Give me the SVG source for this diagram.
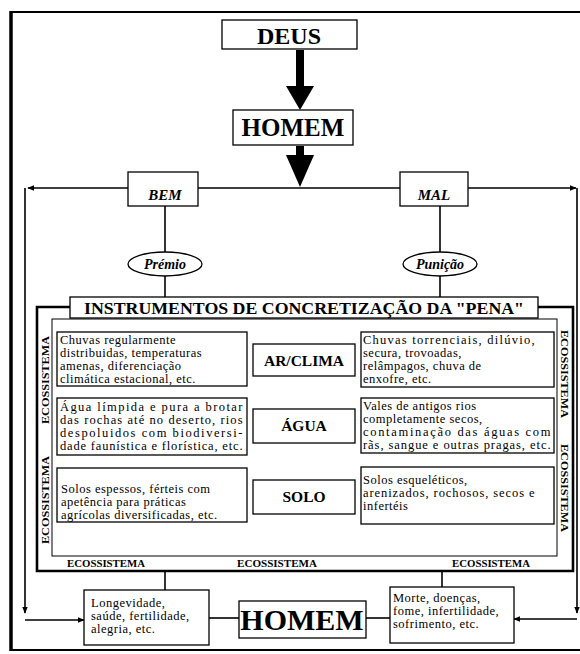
<svg xmlns="http://www.w3.org/2000/svg" width="580" height="654" viewBox="0 0 580 654">
<style>
.box{fill:#fff;stroke:#000;stroke-width:1.3}
.ln{stroke:#000;stroke-width:1.6;fill:none}
.t{font-family:"Liberation Serif",serif;fill:#000}
.body{font-size:12.5px;letter-spacing:0.5px}
.b{font-weight:bold}
.bi{font-weight:bold;font-style:italic}
.eco{font-family:"Liberation Serif",serif;font-weight:bold;font-size:10.5px}
.dot{stroke:#000;stroke-width:0.8;stroke-dasharray:1 2.5;fill:none}
</style>
<defs>
<marker id="ah" viewBox="0 0 10 10" refX="9" refY="5" markerWidth="7" markerHeight="7" orient="auto" markerUnits="userSpaceOnUse">
<path d="M0,1 L10,5 L0,9 z" fill="#000"/>
</marker>
</defs>
<rect width="580" height="654" fill="#fff"/>
<g id="frame">
<line x1="10" y1="12" x2="580" y2="12" stroke="#000" stroke-width="2"/>
<line x1="11" y1="11" x2="11" y2="651" stroke="#000" stroke-width="3.5"/>
<line x1="10" y1="650" x2="580" y2="650" stroke="#000" stroke-width="2"/>
</g>

<g id="connectors">
<rect x="296" y="50" width="8" height="38" fill="#000"/>
<path d="M286,86 L314,86 L300,110 z" fill="#000"/>
<rect x="296" y="146" width="8" height="12" fill="#000"/>
<path d="M286,155 L314,155 L300,187 z" fill="#000"/>
<line class="ln" x1="128" y1="188" x2="28" y2="188" marker-end="url(#ah)"/>
<line class="ln" x1="198" y1="188" x2="400" y2="188"/>
<line class="ln" x1="468" y1="188" x2="576" y2="188" marker-end="url(#ah)"/>
<line class="ln" x1="25" y1="188" x2="25" y2="613" marker-end="url(#ah)"/>
<line class="ln" x1="25" y1="620" x2="84" y2="620" marker-end="url(#ah)"/>
<line class="ln" x1="577" y1="188" x2="577" y2="613" marker-end="url(#ah)"/>
<line class="ln" x1="577" y1="619" x2="514" y2="619" marker-end="url(#ah)"/>
<line class="ln" x1="165" y1="206" x2="165" y2="252"/>
<line class="ln" x1="440" y1="206" x2="440" y2="252"/>
<line class="ln" x1="165" y1="276" x2="165" y2="297"/>
<line class="ln" x1="440" y1="276" x2="440" y2="297"/>
<line class="dot" x1="163" y1="320" x2="163" y2="556"/>
<line class="dot" x1="441" y1="320" x2="441" y2="556"/>
<line class="ln" x1="165" y1="571" x2="165" y2="590"/>
<line class="ln" x1="442" y1="571" x2="442" y2="587"/>
<line class="ln" x1="209" y1="618" x2="239" y2="618"/>
<line class="ln" x1="366" y1="618" x2="390" y2="618"/>
</g>

<g id="deus">
<rect class="box" x="222" y="20" width="135" height="29"/>
<text class="t b" x="289" y="44" font-size="24" text-anchor="middle">DEUS</text>
</g>
<g id="homem-top">
<rect class="box" x="233" y="110" width="120" height="35"/>
<text class="t b" x="293" y="136" font-size="25" text-anchor="middle">HOMEM</text>
</g>
<g id="bem">
<rect class="box" x="128" y="172" width="70" height="34"/>
<text class="t bi" x="165" y="200" font-size="15" text-anchor="middle">BEM</text>
</g>
<g id="mal">
<rect class="box" x="400" y="172" width="68" height="34"/>
<text class="t bi" x="434" y="200" font-size="15" text-anchor="middle">MAL</text>
</g>
<g id="premio">
<ellipse class="box" cx="165" cy="264" rx="37" ry="12"/>
<text class="t bi" x="165" y="269" font-size="14" text-anchor="middle">Prémio</text>
</g>
<g id="punicao">
<ellipse class="box" cx="440" cy="264" rx="37" ry="12"/>
<text class="t bi" x="440" y="269" font-size="14" text-anchor="middle">Punição</text>
</g>

<g id="ecossistema">
<path d="M70,307 L37,307 L37,571 L573,571 L573,307 L538,307" fill="none" stroke="#000" stroke-width="2.6"/>
<rect x="52" y="319" width="505" height="237" fill="#fff" stroke="#000" stroke-width="1"/>
<text class="eco" transform="translate(49,380) rotate(-90)" text-anchor="middle" textLength="88" lengthAdjust="spacingAndGlyphs">ECOSSISTEMA</text>
<text class="eco" transform="translate(49,500) rotate(-90)" text-anchor="middle" textLength="88" lengthAdjust="spacingAndGlyphs">ECOSSISTEMA</text>
<text class="eco" transform="translate(561,374) rotate(90)" text-anchor="middle" textLength="88" lengthAdjust="spacingAndGlyphs">ECOSSISTEMA</text>
<text class="eco" transform="translate(561,488) rotate(90)" text-anchor="middle" textLength="88" lengthAdjust="spacingAndGlyphs">ECOSSISTEMA</text>
<text class="eco" x="106" y="567" text-anchor="middle" textLength="78" lengthAdjust="spacingAndGlyphs">ECOSSISTEMA</text>
<text class="eco" x="277" y="567" text-anchor="middle" textLength="80" lengthAdjust="spacingAndGlyphs">ECOSSISTEMA</text>
<text class="eco" x="491" y="567" text-anchor="middle" textLength="78" lengthAdjust="spacingAndGlyphs">ECOSSISTEMA</text>
</g>

<g id="instrumentos">
<rect class="box" x="70" y="297" width="468" height="21"/>
<text class="t b" x="304" y="314" font-size="16.5" text-anchor="middle" textLength="440" lengthAdjust="spacingAndGlyphs">INSTRUMENTOS DE CONCRETIZAÇÃO DA "PENA"</text>
</g>

<g id="bem-ar">
<rect class="box" x="57" y="332" width="190" height="54"/>
<text class="t body" x="60" y="344">Chuvas regularmente</text>
<text class="t body" x="60" y="357">distribuidas, temperaturas</text>
<text class="t body" x="60" y="370">amenas, diferenciação</text>
<text class="t body" x="60" y="383">climática estacional, etc.</text>
</g>
<g id="bem-agua">
<rect class="box" x="57" y="398" width="190" height="57"/>
<text class="t body" x="60" y="411" textLength="183" lengthAdjust="spacing">Água límpida e pura a brotar</text>
<text class="t body" x="60" y="424" textLength="183" lengthAdjust="spacing">das rochas até no deserto, rios</text>
<text class="t body" x="60" y="437" textLength="183" lengthAdjust="spacing">despoluidos com biodiversi-</text>
<text class="t body" x="60" y="450" textLength="183" lengthAdjust="spacing">dade faunística e florística, etc.</text>
</g>
<g id="bem-solo">
<rect class="box" x="57" y="468" width="190" height="54"/>
<text class="t body" x="61" y="493">Solos espessos, férteis com</text>
<text class="t body" x="61" y="506">apetência para práticas</text>
<text class="t body" x="61" y="519">agrícolas diversificadas, etc.</text>
</g>

<g id="ar-clima">
<rect class="box" x="253" y="344" width="102" height="32"/>
<text class="t b" x="304" y="366" font-size="15.5" text-anchor="middle">AR/CLIMA</text>
</g>
<g id="agua">
<rect class="box" x="253" y="409" width="102" height="34"/>
<text class="t b" x="304" y="431" font-size="15.5" text-anchor="middle">ÁGUA</text>
</g>
<g id="solo">
<rect class="box" x="253" y="480" width="102" height="34"/>
<text class="t b" x="304" y="502" font-size="15.5" text-anchor="middle">SOLO</text>
</g>

<g id="mal-ar">
<rect class="box" x="361" y="332" width="193" height="55"/>
<text class="t body" x="363" y="344" textLength="172" lengthAdjust="spacing">Chuvas torrenciais, dilúvio,</text>
<text class="t body" x="363" y="357">secura, trovoadas,</text>
<text class="t body" x="363" y="370">relâmpagos, chuva de</text>
<text class="t body" x="363" y="383">enxofre, etc.</text>
</g>
<g id="mal-agua">
<rect class="box" x="361" y="398" width="193" height="55"/>
<text class="t body" x="363" y="410">Vales de antigos rios</text>
<text class="t body" x="363" y="423">completamente secos,</text>
<text class="t body" x="363" y="436" textLength="188" lengthAdjust="spacing">contaminação das águas com</text>
<text class="t body" x="363" y="449" textLength="188" lengthAdjust="spacing">rãs, sangue e outras pragas, etc.</text>
</g>
<g id="mal-solo">
<rect class="box" x="361" y="467" width="193" height="57"/>
<text class="t body" x="363" y="484">Solos esqueléticos,</text>
<text class="t body" x="363" y="497" textLength="172" lengthAdjust="spacing">arenizados, rochosos, secos e</text>
<text class="t body" x="363" y="510">infertéis</text>
</g>

<g id="longevidade">
<rect class="box" x="84" y="590" width="125" height="55"/>
<text class="t body" x="91" y="607">Longevidade,</text>
<text class="t body" x="91" y="620">saúde, fertilidade,</text>
<text class="t body" x="91" y="633">alegria, etc.</text>
</g>
<g id="homem-bottom">
<rect class="box" x="239" y="601" width="127" height="37"/>
<text class="t b" x="302" y="630" font-size="30" text-anchor="middle">HOMEM</text>
</g>
<g id="morte">
<rect class="box" x="390" y="587" width="124" height="56"/>
<text class="t body" x="393" y="602">Morte, doenças,</text>
<text class="t body" x="393" y="615">fome, infertilidade,</text>
<text class="t body" x="393" y="628">sofrimento, etc.</text>
</g>
</svg>
